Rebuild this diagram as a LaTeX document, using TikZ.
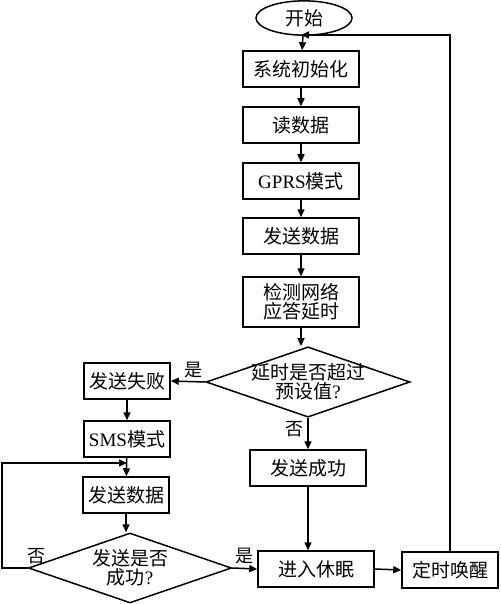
\documentclass[tikz,border=0pt]{standalone}
\usepackage{fontspec}
\setmainfont{Liberation Serif}
\newfontfamily\cjk{Noto Sans CJK SC}
\usetikzlibrary{shapes.geometric,arrows.meta}

\tikzset{
  stepbox/.style={draw, line width=1.5pt, minimum width=116pt, minimum height=36pt, inner sep=0pt},
  choice/.style={draw, line width=1.5pt, diamond, aspect=2.9, minimum width=203pt, minimum height=70pt, inner xsep=-8pt, inner ysep=0pt, align=center},
  flow/.style={-{Triangle[length=8pt,width=7pt]}, line width=1.5pt},
  tag/.style={font=\fontsize{18}{20}\selectfont\cjk}
}

\begin{document}
\begin{tikzpicture}[x=1pt,y=-1pt, font=\fontsize{19}{22}\selectfont\cjk]

\useasboundingbox (0,0) rectangle (500,604);

% main column
\node[draw, ellipse, line width=1.5pt, minimum width=96pt, minimum height=32pt] (start) at (304,18) {开始};
\node[stepbox] (init) at (301,69) {系统初始化};
\node[stepbox] (read) at (301,125) {读数据};
\node[stepbox] (gprs) at (301,181) {{\rmfamily GPRS}模式};
\node[stepbox] (send) at (301,236) {发送数据};
\node[stepbox, minimum height=50pt, align=center] (check) at (301,302) {检测网络\\[-3pt]应答延时};
\node[choice] (judge) at (308,382) {延时是否超过\\[-3pt]预设值{\rmfamily ?}};
\node[stepbox] (ok) at (308,468) {发送成功};
\node[stepbox] (sleep) at (316,569) {进入休眠};
\node[stepbox, minimum width=96pt] (wake) at (450,570) {定时唤醒};

% left column
\node[stepbox, minimum width=86pt] (fail) at (127,381) {发送失败};
\node[stepbox, minimum width=86pt] (sms) at (127,439) {{\rmfamily SMS}模式};
\node[stepbox, minimum width=86pt] (send2) at (126,495) {发送数据};
\node[choice] (judge2) at (130,568) {发送是否\\[-3pt]成功{\rmfamily ?}};

\coordinate (back) at (301,35);
\coordinate (merge) at (127,463);

\draw[flow] (start) -- (init);
\draw[flow] (init) -- (read);
\draw[flow] (read) -- (gprs);
\draw[flow] (gprs) -- (send);
\draw[flow] (send) -- (check);
\draw[flow] (check) -- (check.south |- judge.north);
\draw[flow] (judge.west) -- node[above, tag, pos=0.35] {是} (fail.east);
\draw[flow] (judge.south) -- node[left, tag, pos=0.35] {否} (ok.north);
\draw[flow] (fail) -- (sms);
\draw[flow] (sms) -- (send2);
\draw[flow] (send2) -- (send2.south |- judge2.north);
\draw[flow] (judge2.west) -- (2,568) node[above right, tag, pos=0.1, xshift=-2pt] {否} -- (2,463) -- (merge);
\draw[flow] (judge2.east) -- node[above, tag] {是} (sleep.west);
\draw[flow] (ok.south) -- (ok.south |- sleep.north);
\draw[flow] (sleep.east) -- (wake.west);
\draw[flow] (wake.north) |- (back);

\end{tikzpicture}
\end{document}
